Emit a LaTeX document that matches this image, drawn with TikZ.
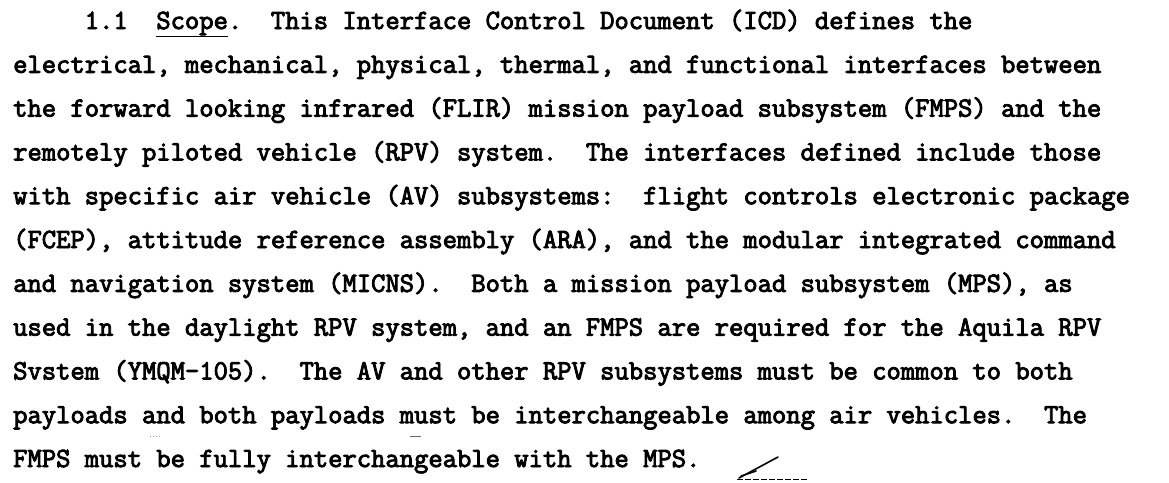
\documentclass[tikz,border=0pt]{standalone}
\usepackage{tikz}
\usetikzlibrary{positioning}
% darker typewriter strokes: fill and stroke the glyphs
\newcommand\inked{\special{pdf:code 2 Tr 0.9 w}}

\begin{document}
\begin{tikzpicture}[x=1pt, y=-1pt,
    textline/.style={anchor=base west, inner sep=0pt, font=\ttfamily\fontsize{27.8}{30}\selectfont\inked},
    scanmark/.style={draw=black, line width=1.6pt, line cap=round}
    ]
        \useasboundingbox[fill=white] (0,0) rectangle (1169,482);
        %Lines of text
        \node[textline]
            (l1)  at (13,29)  {~~~~~1.1~~\underline{Scope}.~~This Interface Control Document (ICD) defines the};
        \node[textline]
            (l2)  [below=43.8pt of l1.base west, anchor=base west]  {electrical, mechanical, physical, thermal, and functional interfaces between};
        \node[textline]
            (l3)  [below=43.8pt of l2.base west, anchor=base west]  {the forward looking infrared (FLIR) mission payload subsystem (FMPS) and the};
        \node[textline]
            (l4)  [below=43.8pt of l3.base west, anchor=base west]  {remotely piloted vehicle (RPV) system.~~The interfaces defined include those};
        \node[textline]
            (l5)  [below=43.8pt of l4.base west, anchor=base west]  {with specific air vehicle (AV) subsystems:~~flight controls electronic package};
        \node[textline]
            (l6)  [below=43.8pt of l5.base west, anchor=base west]  {(FCEP), attitude reference assembly (ARA), and the modular integrated command};
        \node[textline]
            (l7)  [below=43.8pt of l6.base west, anchor=base west]  {and navigation system (MICNS).~~Both a mission payload subsystem (MPS), as};
        \node[textline]
            (l8)  [below=43.8pt of l7.base west, anchor=base west]  {used in the daylight RPV system, and an FMPS are required for the Aquila RPV};
        \node[textline]
            (l9)  [below=43.8pt of l8.base west, anchor=base west]  {Svstem (YMQM-105).~~The AV and other RPV subsystems must be common to both};
        \node[textline]
            (l10) [below=43.8pt of l9.base west, anchor=base west]  {payloads and both payloads must be interchangeable among air vehicles.~~The};
        \node[textline]
            (l11) [below=43.8pt of l10.base west, anchor=base west] {FMPS must be fully interchangeable with the MPS.};

        %Marks of the scan
        \draw[scanmark] (739,478) -- (778,457);
        \draw[scanmark] (741,476) -- (756,471);
        \draw[draw=black, line width=1pt, dash pattern=on 6pt off 2pt] (737,479) -- (808,479);
        \draw[draw=black!60, line width=1pt] (410,436) -- (421,436);
        \draw[draw=black!40, line width=1pt, dotted] (150,436) -- (162,436);
    \end{tikzpicture}
\end{document}
